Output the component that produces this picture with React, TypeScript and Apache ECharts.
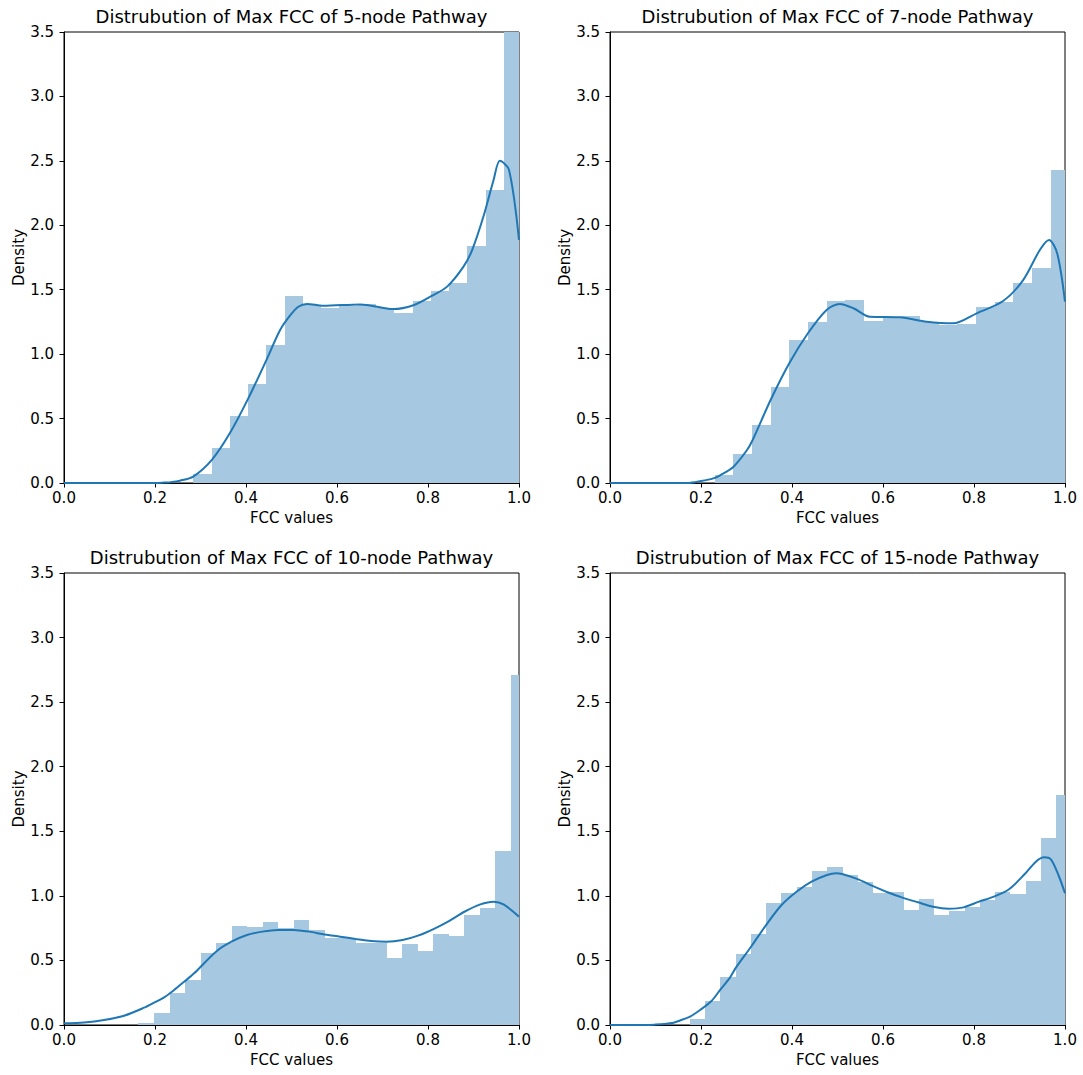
import React, { useEffect, useRef } from "react";
import * as echarts from "echarts";

// ---------- data ----------
const panelTitles = [
  "Distrubution of Max FCC of 5-node Pathway",
  "Distrubution of Max FCC of 7-node Pathway",
  "Distrubution of Max FCC of 10-node Pathway",
  "Distrubution of Max FCC of 15-node Pathway",
];

const xTicks = [0, 0.2, 0.4, 0.6, 0.8, 1.0];
const yTicks = [0, 0.5, 1.0, 1.5, 2.0, 2.5, 3.0, 3.5];

// histogram: first bin left edge, bin width, densities
const hist5Start = 0.2842;
const hist5Width = 0.04016;
const hist5 = [0.07, 0.27, 0.52, 0.77, 1.07, 1.45, 1.38, 1.36, 1.37, 1.39, 1.36, 1.32, 1.41, 1.49, 1.55, 1.84, 2.27, 3.6];

const hist7Start = 0.2301;
const hist7Width = 0.04103;
const hist7 = [0.062, 0.222, 0.45, 0.747, 1.11, 1.249, 1.412, 1.42, 1.257, 1.288, 1.296, 1.252, 1.226, 1.234, 1.366, 1.407, 1.55, 1.666, 2.429];

const hist10Start = 0.1637;
const hist10Width = 0.03411;
const hist10 = [0.013, 0.09, 0.245, 0.348, 0.555, 0.633, 0.767, 0.757, 0.8, 0.749, 0.813, 0.736, 0.676, 0.676, 0.633, 0.633, 0.521, 0.627, 0.573, 0.705, 0.689, 0.852, 0.903, 1.347, 2.71];

const hist15Start = 0.1758;
const hist15Width = 0.03352;
const hist15 = [0.044, 0.186, 0.369, 0.552, 0.705, 0.942, 1.025, 1.071, 1.192, 1.226, 1.162, 1.105, 1.02, 1.032, 0.89, 0.976, 0.852, 0.885, 0.916, 0.968, 1.032, 1.012, 1.117, 1.446, 1.781];

// KDE curves
const kde5X = [0, 0.1, 0.2, 0.22, 0.233, 0.255, 0.284, 0.325, 0.365, 0.405, 0.445, 0.475, 0.497, 0.515, 0.534, 0.57, 0.651, 0.724, 0.768, 0.805, 0.842, 0.878, 0.897, 0.922, 0.944, 0.958, 0.978, 1.0];
const kde5Y = [0, 0, 0, 0.003, 0.006, 0.018, 0.05, 0.18, 0.39, 0.657, 0.955, 1.187, 1.3, 1.368, 1.39, 1.375, 1.386, 1.35, 1.38, 1.446, 1.524, 1.679, 1.808, 2.07, 2.35, 2.5, 2.43, 1.886];

const kde7X = [0, 0.1, 0.17, 0.2, 0.227, 0.242, 0.271, 0.3, 0.313, 0.353, 0.394, 0.435, 0.476, 0.505, 0.535, 0.571, 0.637, 0.696, 0.754, 0.806, 0.864, 0.908, 0.945, 0.965, 0.983, 1.0];
const kde7Y = [0, 0, 0, 0.015, 0.036, 0.06, 0.125, 0.25, 0.33, 0.644, 0.929, 1.162, 1.343, 1.389, 1.356, 1.29, 1.286, 1.252, 1.239, 1.317, 1.412, 1.575, 1.81, 1.886, 1.78, 1.407];

const kde10X = [0, 0.044, 0.088, 0.132, 0.176, 0.198, 0.22, 0.242, 0.264, 0.286, 0.334, 0.368, 0.402, 0.436, 0.47, 0.504, 0.539, 0.573, 0.607, 0.641, 0.675, 0.709, 0.744, 0.778, 0.812, 0.846, 0.88, 0.915, 0.944, 0.966, 1.0];
const kde10Y = [0.013, 0.02, 0.039, 0.072, 0.134, 0.173, 0.214, 0.271, 0.335, 0.4, 0.568, 0.645, 0.697, 0.723, 0.736, 0.736, 0.723, 0.7, 0.684, 0.666, 0.65, 0.645, 0.658, 0.692, 0.743, 0.805, 0.877, 0.934, 0.955, 0.934, 0.839];

const kde15X = [0, 0.08, 0.1, 0.12, 0.14, 0.154, 0.176, 0.198, 0.223, 0.243, 0.264, 0.276, 0.31, 0.343, 0.377, 0.41, 0.443, 0.477, 0.497, 0.51, 0.543, 0.577, 0.61, 0.643, 0.677, 0.71, 0.744, 0.777, 0.811, 0.844, 0.877, 0.911, 0.936, 0.954, 0.969, 0.987, 1.0];
const kde15Y = [0, 0, 0.003, 0.008, 0.018, 0.035, 0.065, 0.116, 0.186, 0.276, 0.369, 0.44, 0.606, 0.774, 0.929, 1.032, 1.11, 1.162, 1.175, 1.169, 1.131, 1.077, 1.028, 0.986, 0.95, 0.916, 0.901, 0.911, 0.955, 0.994, 1.051, 1.167, 1.265, 1.299, 1.283, 1.148, 1.02];

const panels = [
  { start: hist5Start, width: hist5Width, hist: hist5, kx: kde5X, ky: kde5Y },
  { start: hist7Start, width: hist7Width, hist: hist7, kx: kde7X, ky: kde7Y },
  { start: hist10Start, width: hist10Width, hist: hist10, kx: kde10X, ky: kde10Y },
  { start: hist15Start, width: hist15Width, hist: hist15, kx: kde15X, ky: kde15Y },
];

const FONT = "DejaVu Sans";
const BAR_COLOR = "#a6c8e1";
const LINE_COLOR = "#1f77b4";

const gridPos = [
  { left: 64, top: 32, width: 455, height: 451 },
  { left: 610, top: 32, width: 455, height: 451 },
  { left: 64, top: 573, width: 455, height: 452 },
  { left: 610, top: 573, width: 455, height: 452 },
];

export default function App() {
  const ref = useRef<HTMLDivElement>(null);

  useEffect(() => {
    if (!ref.current) return;
    const chart = echarts.init(ref.current, null, { renderer: "svg" });

    const grids = gridPos.map((g) => ({
      ...g,
      show: true,
      borderColor: "#000",
      borderWidth: 1,
      backgroundColor: "transparent",
    }));

    const xAxes = gridPos.map((_, i) => ({
      type: "value",
      gridIndex: i,
      min: 0,
      max: 1,
      interval: 0.2,
      name: "FCC values",
      nameLocation: "middle",
      nameGap: 27,
      nameTextStyle: { fontFamily: FONT, fontSize: 15, color: "#000" },
      axisLine: { show: true, lineStyle: { color: "#000", width: 1 } },
      axisTick: { show: true, length: 4.5, lineStyle: { color: "#000", width: 1 } },
      axisLabel: {
        fontFamily: FONT,
        fontSize: 15,
        color: "#000",
        margin: 7,
        formatter: (v: number) => (xTicks.some((t) => Math.abs(t - v) < 1e-9) ? v.toFixed(1) : ""),
      },
      splitLine: { show: false },
    }));

    const yAxes = gridPos.map((_, i) => ({
      type: "value",
      gridIndex: i,
      min: 0,
      max: 3.5,
      interval: 0.5,
      name: "Density",
      nameLocation: "middle",
      nameGap: 38,
      nameTextStyle: { fontFamily: FONT, fontSize: 15, color: "#000" },
      axisLine: { show: true, lineStyle: { color: "#000", width: 1 } },
      axisTick: { show: true, length: 4.5, lineStyle: { color: "#000", width: 1 } },
      axisLabel: {
        fontFamily: FONT,
        fontSize: 15,
        color: "#000",
        margin: 10,
        formatter: (v: number) => (yTicks.some((t) => Math.abs(t - v) < 1e-9) ? v.toFixed(1) : ""),
      },
      splitLine: { show: false },
    }));

    const series: any[] = [];
    panels.forEach((p, i) => {
      const data = p.hist.map((h, k) => [p.start + k * p.width, p.start + (k + 1) * p.width, h]);
      series.push({
        type: "custom",
        xAxisIndex: i,
        yAxisIndex: i,
        clip: true,
        encode: { x: [0, 1], y: 2 },
        data,
        renderItem: (params: any, api: any) => {
          const x0 = api.value(0);
          const x1 = api.value(1);
          const h = api.value(2);
          const pTop = api.coord([x0, h]);
          const pBot = api.coord([x1, 0]);
          const left = Math.round(pTop[0]);
          const right = Math.round(pBot[0]);
          const top = Math.round(pTop[1]);
          const bottom = pBot[1];
          return {
            type: "rect",
            shape: { x: left, y: top, width: right - left, height: bottom - top },
            style: { fill: BAR_COLOR, stroke: null },
          };
        },
        z: 1,
      });
      series.push({
        type: "line",
        xAxisIndex: i,
        yAxisIndex: i,
        data: p.kx.map((x, k) => [x, p.ky[k]]),
        smooth: 0.3,
        showSymbol: false,
        symbol: "none",
        clip: true,
        lineStyle: { color: LINE_COLOR, width: 2 },
        z: 3,
      });
    });

    const titles = panelTitles.map((t, i) => ({
      text: t,
      left: gridPos[i].left + gridPos[i].width / 2,
      top: gridPos[i].top - 25,
      padding: 0,
      textAlign: "center",
      textStyle: { fontFamily: FONT, fontSize: 18, fontWeight: "normal", color: "#000" },
    }));

    chart.setOption({
      animation: false,
      backgroundColor: "#fff",
      title: titles,
      grid: grids,
      xAxis: xAxes,
      yAxis: yAxes,
      series,
    });

    return () => chart.dispose();
  }, []);

  return (
    <div
      ref={ref}
      style={{ position: "absolute", left: 0, top: 0, width: 1083, height: 1075, background: "#fff" }}
    />
  );
}
